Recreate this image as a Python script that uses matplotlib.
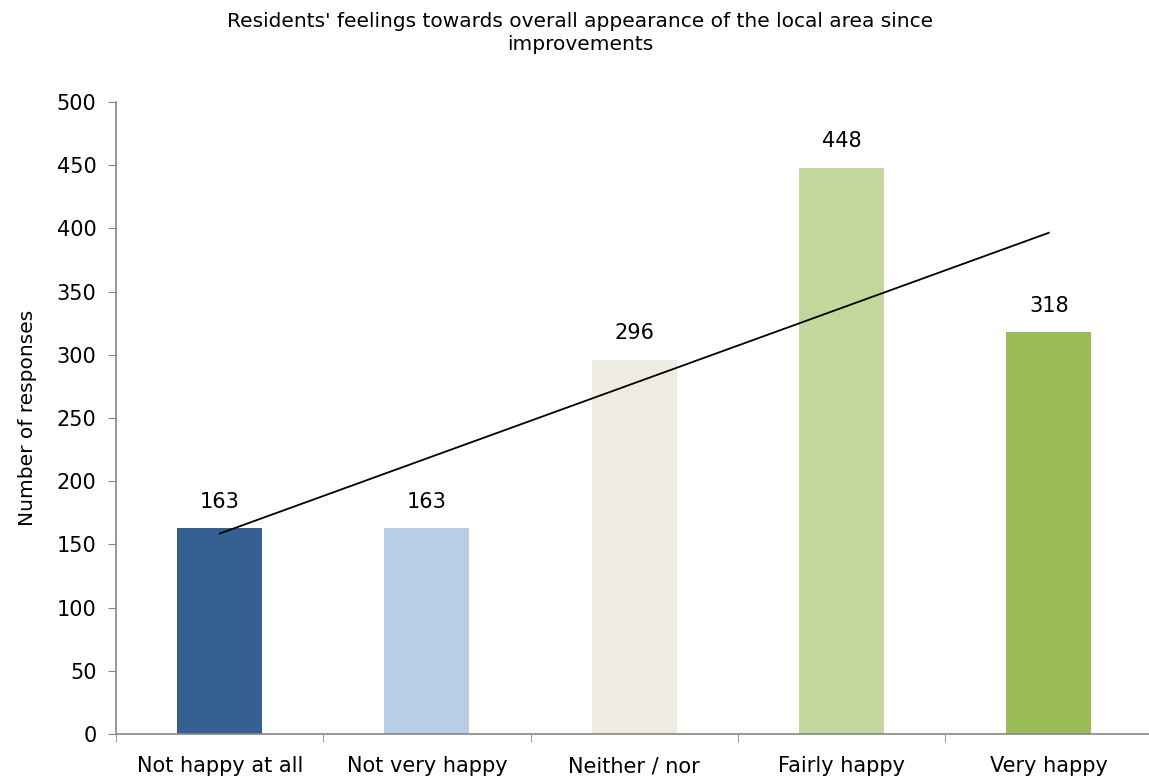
import numpy as np
import matplotlib
matplotlib.use("Agg")
from matplotlib import pyplot as plt

categories = ["Not happy at all", "Not very happy", "Neither / nor", "Fairly happy", "Very happy"]
responses = [163, 163, 296, 448, 318]
bar_colors = ["#376092", "#B9CDE5", "#EEECE1", "#C3D69B", "#9BBB59"]
y_ticks = [0, 50, 100, 150, 200, 250, 300, 350, 400, 450, 500]

plt.rcParams["font.family"] = ["DejaVu Sans"]

fig = plt.figure(figsize=(11.49, 7.83), dpi=100)
ax = fig.add_axes([0.101, 0.0626, 0.902, 0.807])

x = np.arange(len(categories))
ax.bar(x, responses, width=0.41, color=bar_colors, zorder=2)

for xi, v in zip(x, responses):
    ax.text(xi, v + 13, str(v), ha="center", va="bottom", fontsize=15)

# linear trendline
slope, intercept = np.polyfit(x, responses, 1)
ax.plot([x[0], x[-1]], [intercept, intercept + slope * x[-1]], color="black", lw=1.3, zorder=3)

ax.set_xlim(-0.5, len(categories) - 0.5)
ax.set_ylim(0, 500)
ax.set_yticks(y_ticks)
ax.tick_params(axis="y", labelsize=15, length=6, color="#868686", pad=8)

ax.set_xticks(x)
ax.set_xticklabels(categories, fontsize=15)
ax.tick_params(axis="x", length=0, pad=16)
ax.set_xticks(np.arange(-0.5, len(categories) - 0.5, 1), minor=True)
ax.tick_params(axis="x", which="minor", length=6, color="#868686")

for s in ["top", "right"]:
    ax.spines[s].set_visible(False)
for s in ["left", "bottom"]:
    ax.spines[s].set_color("#868686")
    ax.spines[s].set_linewidth(1.2)

ax.set_ylabel("Number of responses", fontsize=14.5, labelpad=14)
fig.text(0.505, 0.985, "Residents' feelings towards overall appearance of the local area since\nimprovements",
         ha="center", va="top", fontsize=14.5, linespacing=1.3)

fig.savefig("out.png", dpi=100)
